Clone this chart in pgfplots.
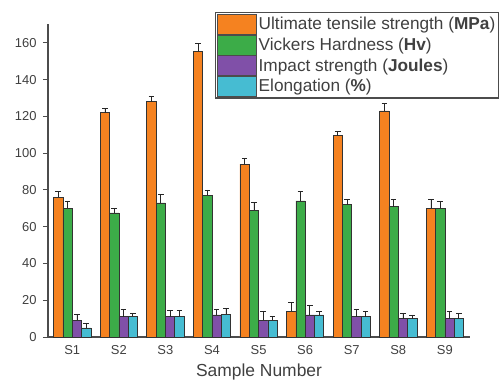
\documentclass[border=0pt]{standalone}
\usepackage{pgfplots}
\pgfplotsset{compat=1.18}
\usepackage{fontspec}
\setmainfont{Liberation Sans}
\definecolor{cUTS}{RGB}{245,130,32}
\definecolor{cVH}{RGB}{60,172,72}
\definecolor{cIS}{RGB}{128,80,168}
\definecolor{cEL}{RGB}{70,188,210}
\definecolor{txt}{RGB}{64,64,64}
\pgfplotstableread{
x uts utse vh vhe is ise el ele
0 76 3 70 4 9 3.5 5 2.5
1 122 2.5 67.5 2.5 11 4 11.4 1.5
2 128 3 73 4.5 11 3.5 11 3.5
3 155.5 4 77 3 12 3 12.5 3
4 94 3 69 4 9.2 4.5 9 2
5 14 5 74 5 12 5 12 2
6 109.5 2.5 72 3 11 4 11 3
7 123 4 71 4 10 3 10 2
8 70 5 70 4 10 4 10 3
}\datatable
\begin{document}
\begin{tikzpicture}[x=1bp,y=1bp]
\begin{axis}[
  at={(0,0)}, anchor=south west,
  scale only axis,
  width=422bp, height=313bp,
  ybar=0pt, bar width=9.3bp,
  xmin=-0.52, xmax=8.54,
  ymin=0, ymax=170.3,
  axis x line*=bottom, axis y line*=left,
  axis line style={draw=black!70, line width=1.2pt, -},
  xtick=data,
  xticklabels={S1,S2,S3,S4,S5,S6,S7,S8,S9},
  ytick={0,20,40,60,80,100,120,140,160},
  tick align=outside,
  major tick length=5bp,
  x tick style={draw=none},
  y tick style={draw=black!70, line width=1pt},
  tick label style={font=\fontsize{13}{15}\selectfont, text=txt},
  yticklabel style={xshift=-3bp},
  /pgf/number format/assume math mode=true,
  xlabel={Sample Number},
  xlabel style={font=\fontsize{17.5}{19}\selectfont, text=txt, yshift=-2bp},
  every axis plot/.append style={draw=black!80, line width=0.6pt},
  error bars/error bar style={black!85, line width=0.7pt},
  error bars/error mark options={rotate=90, mark size=2.8bp, line width=0.7pt, black!85},
  legend style={at={(167/422,1+12/313)}, anchor=north west,
    draw=black!70, line width=1.2pt, fill=white,
    font=\fontsize{17.3}{19}\selectfont, text=txt,
    row sep=0pt, inner sep=1.5bp, cells={anchor=west}},
  legend image code/.code={\draw[#1, draw=black!70, line width=0.6pt] (-1bp,-10bp) rectangle (38bp,10bp);},
]
\addplot[fill=cUTS, error bars/.cd, y dir=plus, y explicit] table[x=x, y=uts, y error=utse] {\datatable};
\addplot[fill=cVH, error bars/.cd, y dir=plus, y explicit] table[x=x, y=vh, y error=vhe] {\datatable};
\addplot[fill=cIS, error bars/.cd, y dir=plus, y explicit] table[x=x, y=is, y error=ise] {\datatable};
\addplot[fill=cEL, error bars/.cd, y dir=plus, y explicit] table[x=x, y=el, y error=ele] {\datatable};
\legend{Ultimate tensile strength (\textbf{MPa}), Vickers Hardness (\textbf{Hv}), Impact strength (\textbf{Joules}), Elongation (\textbf{\%})}
\end{axis}
\pgfresetboundingbox
\useasboundingbox (-48,-44) rectangle (455,337);
\end{tikzpicture}
\end{document}
